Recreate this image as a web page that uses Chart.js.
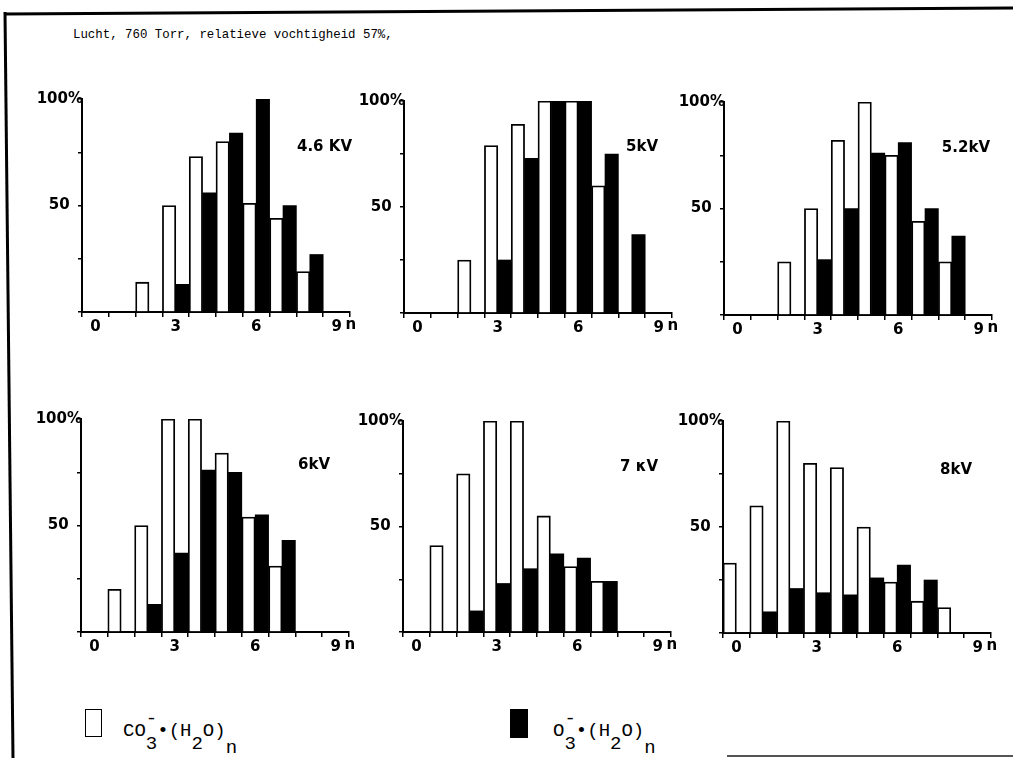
<!DOCTYPE html>
<html>
<head>
<meta charset="utf-8">
<script src="https://cdn.jsdelivr.net/npm/chart.js@4.4.1/dist/chart.umd.min.js"></script>
<style>
html,body{margin:0;padding:0;background:#fff;}
body{width:1013px;height:758px;position:relative;overflow:hidden;}
canvas.panel{position:absolute;}
#frame{position:absolute;left:0;top:0;}
.title{position:absolute;left:73px;top:29px;font-family:'Liberation Mono',monospace;font-size:12.4px;line-height:12.4px;color:#000;white-space:pre;}
.leg{position:absolute;font-family:'Liberation Mono',monospace;font-size:19px;color:#000;white-space:nowrap;line-height:19px;}
.box{position:absolute;border:1.6px solid #000;box-sizing:border-box;}
.sp{position:relative;top:-0.62em;}
.sb{position:relative;top:0.66em;}
.sbn{position:relative;top:0.88em;}
.ov{margin-left:-0.6em;}
</style>
</head>
<body>
<svg id="frame" width="1013" height="758">
  <line x1="5" y1="14" x2="1013" y2="8" stroke="#000" stroke-width="3"/>
  <line x1="5" y1="12" x2="13" y2="758" stroke="#000" stroke-width="3"/>
  <line x1="727" y1="756" x2="1013" y2="756" stroke="#555" stroke-width="2"/>
</svg>
<div class="title">Lucht, 760 Torr, relatieve vochtigheid 57%,</div>

<canvas class="panel" id="p0"></canvas>
<canvas class="panel" id="p1"></canvas>
<canvas class="panel" id="p2"></canvas>
<canvas class="panel" id="p3"></canvas>
<canvas class="panel" id="p4"></canvas>
<canvas class="panel" id="p5"></canvas>

<div class="box" style="left:85px;top:709px;width:17px;height:28px;background:#fff;"></div>
<div class="leg" style="left:123px;top:722px;">CO<span class="sp">-</span><span class="sb ov">3</span>•(H<span class="sb">2</span>O)<span class="sbn">n</span></div>
<div class="box" style="left:510px;top:709px;width:18px;height:29px;background:#000;"></div>
<div class="leg" style="left:553px;top:722px;">O<span class="sp">-</span><span class="sb ov">3</span>•(H<span class="sb">2</span>O)<span class="sbn">n</span></div>

<script>
// ---- data ----
const nValues = ['0','1','2','3','4','5','6','7','8','9'];
const nTickLabels = ['0','','','3','','','6','','','9'];
const seriesNames = ['CO3-.(H2O)n','O3-.(H2O)n'];
const panelNames = ['4.6 KV','5kV','5.2kV','6kV','7 \u03BAV','8kV'];

const co3_46 = [null,null,14,50,73,80,51,44,19,null];
const o3_46  = [null,null,null,13,56,84,100,50,27,null];
const co3_50 = [null,null,25,79,89,100,100,60,null,null];
const o3_50  = [null,null,null,25,73,100,100,75,37,null];
const co3_52 = [null,null,25,50,82,100,75,44,25,null];
const o3_52  = [null,null,null,26,50,76,81,50,37,null];
const co3_60 = [null,20,50,100,100,84,54,31,null,null];
const o3_60  = [null,null,13,37,76,75,55,43,null,null];
const co3_70 = [null,41,75,100,100,55,31,24,null,null];
const o3_70  = [null,null,10,23,30,37,35,24,null,null];
const co3_80 = [33,60,100,80,78,50,24,15,12,null];
const o3_80  = [null,10,21,19,18,26,32,25,null,null];

const co3Sets = [co3_46, co3_50, co3_52, co3_60, co3_70, co3_80];
const o3Sets  = [o3_46, o3_50, o3_52, o3_60, o3_70, o3_80];

// ---- layout (pixel placement of each panel's plot area) ----
const plotBoxes = [
  {left:82,  top:99,  bottom:312, dx:2,   dy:48},
  {left:404, top:101, bottom:313, dx:-14, dy:46},
  {left:724, top:102, bottom:315, dx:-2,  dy:46},
  {left:81,  top:419, bottom:632, dx:-19, dy:46},
  {left:403, top:421, bottom:632, dx:-13, dy:46},
  {left:723, top:421, bottom:633, dx:-19, dy:49}
];
const PLOT_W = 268, AX_W = 60, PAD_T = 12, PAD_R = 30, AX_H = 30;
const NUM_FONT = {family:'DejaVu Sans', size:15, weight:'bold'};

const panelLabelPlugin = {
  id:'panelLabel',
  afterDraw(chart, args, opts){
    const {ctx, chartArea} = chart;
    const xs = chart.scales.x;
    ctx.save();
    ctx.fillStyle = '#000';
    ctx.font = 'bold 15px "DejaVu Sans"';
    ctx.textAlign = 'right';
    ctx.textBaseline = 'middle';
    ctx.fillText(opts.text, chartArea.right + opts.dx, chartArea.top + opts.dy);
    ctx.textAlign = 'left';
    ctx.textBaseline = 'top';
    ctx.fillText('n', xs.getPixelForValue(nValues.length - 1) + 9, xs.top + 6);
    ctx.restore();
  }
};

plotBoxes.forEach((b, i) => {
  const cv = document.getElementById('p' + i);
  const h = b.bottom - b.top;
  const W = AX_W + PLOT_W + PAD_R, H = PAD_T + h + AX_H;
  cv.width = W; cv.height = H;
  cv.style.left = (b.left - AX_W) + 'px';
  cv.style.top = (b.top - PAD_T) + 'px';
  cv.style.width = W + 'px'; cv.style.height = H + 'px';
  new Chart(cv, {
    type:'bar',
    data:{
      labels:nValues,
      datasets:[
        {label:seriesNames[0], data:co3Sets[i], backgroundColor:'#fff', borderColor:'#000', borderWidth:1.8, borderSkipped:'bottom'},
        {label:seriesNames[1], data:o3Sets[i], backgroundColor:'#000', borderColor:'#000', borderWidth:0}
      ]
    },
    options:{
      responsive:false, animation:false, devicePixelRatio:1,
      layout:{padding:{top:PAD_T, right:PAD_R, left:0, bottom:0}},
      datasets:{bar:{categoryPercentage:1, barPercentage:1, grouped:true}},
      plugins:{legend:{display:false}, tooltip:{enabled:false}, title:{display:false},
        panelLabel:{text:panelNames[i], dx:b.dx, dy:b.dy}},
      scales:{
        x:{
          type:'category', offset:true,
          grid:{display:true, drawOnChartArea:false, drawTicks:true, tickLength:5, color:'#000', lineWidth:1.5, offset:true},
          border:{display:true, color:'#000', width:2},
          ticks:{autoSkip:false, maxRotation:0, minRotation:0, padding:1, color:'#000', font:NUM_FONT,
            callback:(v, idx) => nTickLabels[idx]},
          afterFit:(s) => { s.height = AX_H; }
        },
        y:{
          min:0, max:100,
          grid:{display:true, drawOnChartArea:false, drawTicks:true, tickLength:4, color:'#000', lineWidth:1.5},
          border:{display:true, color:'#000', width:2},
          ticks:{stepSize:25, padding:-5, color:'#000', font:NUM_FONT,
            callback:(v) => v === 100 ? '100%' : (v === 50 ? '50\u2007\u2009' : '')},
          afterFit:(s) => { s.width = AX_W; }
        }
      }
    },
    plugins:[panelLabelPlugin]
  });
});
</script>
</body>
</html>
